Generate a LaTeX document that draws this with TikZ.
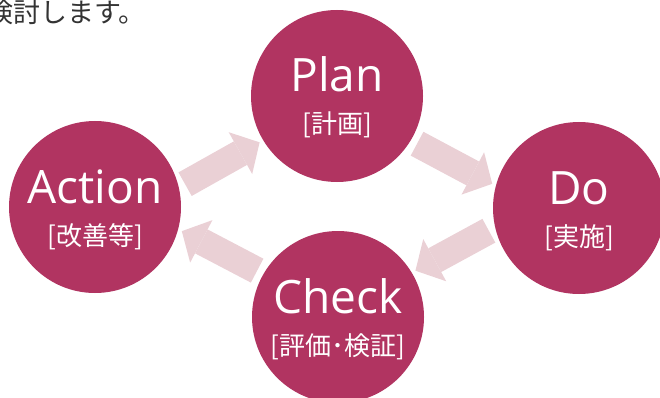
\documentclass[tikz,border=0pt]{standalone}
\usepackage{fontspec}
\setmainfont{Open Sans}
\newfontfamily\jpfont{Noto Sans CJK JP}
\usetikzlibrary{arrows.meta}
\usepackage{xcolor}
\definecolor{PhaseColor}{RGB}{177,52,97}
\definecolor{CycleColor}{RGB}{234,208,213}
\definecolor{LeadColor}{RGB}{51,51,51}
\newcommand{\PhaseSize}{172pt}
\newcommand{\TitleGap}{4pt}
\newcommand{\SubGap}{38pt}
\newcommand{\PlacePhase}[5]{%
  % #1 name, #2 x, #3 y, #4 title, #5 subtitle
  \node[phase] (#1) at (#2,#3) {};
  \node[title,anchor=base] (#1title) at ([yshift=\TitleGap]#1.center) {#4};
  \node[subtitle,anchor=base] (#1sub) at ([yshift=-\SubGap]#1.center) {#5};
}

\begin{document}
\begin{tikzpicture}[
  x=1pt, y=-1pt,
  phase/.style={circle,fill=PhaseColor,minimum size=\PhaseSize,inner sep=0pt},
  title/.style={text=white,inner sep=0pt,font=\fontsize{46}{46}\selectfont},
  subtitle/.style={text=white,inner sep=0pt,font=\jpfont\fontsize{26}{26}\selectfont},
  lead/.style={text=LeadColor,inner sep=0pt,font=\jpfont\fontsize{27}{27}\selectfont},
  cycle/.style={draw=CycleColor,line width=27pt,
    -{Triangle[width=48pt,length=22pt,line width=0pt]},
    shorten <=7pt,shorten >=4pt}
]
\useasboundingbox (0,0) rectangle (660,398);

% Lead-in text (cut at the top edge)
\node[lead,anchor=base west] (lead) at (-14,23) {検討します。};

% Phases
\PlacePhase{plan}{337}{96}{Plan}{[計画]}
\PlacePhase{do}{579}{208}{Do}{[実施]}
\PlacePhase{check}{338}{317}{Check}{[評価･検証]}
\PlacePhase{act}{95}{207}{Action}{[改善等]}

% Cycle arrows
\draw[cycle] (act.13.5) -- (plan.211.7);
\draw[cycle] (plan.329.5) -- (do.165.2);
\draw[cycle] (do.193.9) -- (check.31.4);
\draw[cycle] (check.150.5) -- (act.345.2);

\end{tikzpicture}
\end{document}
